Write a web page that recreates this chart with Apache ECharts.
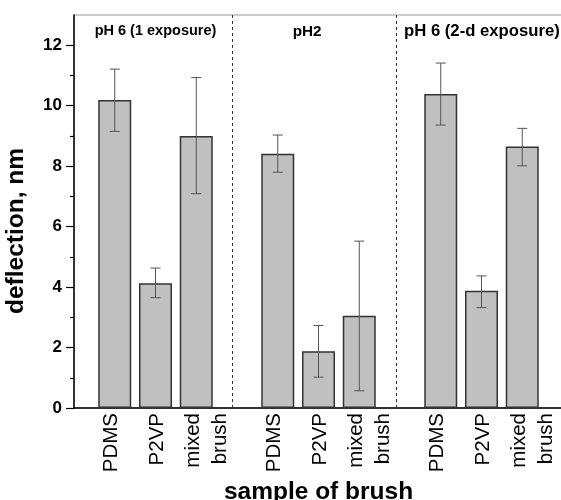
<!DOCTYPE html>
<html>
<head>
<meta charset="utf-8">
<style>
  html, body { margin: 0; padding: 0; background: #fff; }
  #chart { width: 561px; height: 500px; }
</style>
<script src="https://cdn.jsdelivr.net/npm/echarts@6/dist/echarts.min.js"></script>
</head>
<body>
<div id="chart"></div>
<script>
// bar positions on the x scale (gaps at 4 and 8 separate the groups)
const categories = ['PDMS', 'P2VP', 'mixed\nbrush', 'PDMS', 'P2VP', 'mixed\nbrush', 'PDMS', 'P2VP', 'mixed\nbrush'];
const barPos = [1, 2, 3, 5, 6, 7, 9, 10, 11];
const deflection = [10.19, 4.13, 9.0, 8.41, 1.88, 3.05, 10.39, 3.88, 8.65];
const errLow = [9.15, 3.65, 7.09, 7.80, 1.02, 0.57, 9.36, 3.32, 8.01];
const errHigh = [11.21, 4.63, 10.93, 9.03, 2.73, 5.52, 11.41, 4.37, 9.25];
// where the tick labels sit on the x scale
const labelPos = [0.92, 2.05, 3.25, 4.92, 6.05, 7.25, 8.92, 10.05, 11.25];
const dividers = [3.88, 7.9];
const groupTitles = ['pH 6 (1 exposure)', 'pH2', 'pH 6 (2-d exposure)'];
const groupTitleX = [2.0, 5.72, 10.01];
const groupTitleY = 12.46;
const yMajorTicks = [0, 2, 4, 6, 8, 10, 12];
const yMinorTicks = [1, 3, 5, 7, 9, 11];

const font = 'Liberation Sans, Arial, sans-serif';
const chart = echarts.init(document.getElementById('chart'));

chart.setOption({
  animation: false,
  grid: {
    left: 74,
    right: -2,
    top: 15,
    bottom: 92,
    outerBoundsMode: 'none',
    show: true,
    borderColor: '#999',
    borderWidth: 1
  },
  xAxis: {
    type: 'value',
    min: 0,
    max: 12,
    name: 'sample of brush',
    nameLocation: 'middle',
    nameGap: 65,
    nameTextStyle: { fontFamily: font, fontWeight: 'bold', fontSize: 24.5, color: '#000' },
    axisLine: { lineStyle: { color: '#000', width: 1.5 } },
    axisTick: { show: false },
    splitLine: { show: false },
    axisLabel: {
      customValues: labelPos,
      rotate: 90,
      margin: 5,
      fontFamily: font,
      fontSize: 20.5,
      lineHeight: 27,
      color: '#000',
      formatter: (val) => {
        const i = labelPos.indexOf(val);
        return i >= 0 ? categories[i] : '';
      }
    }
  },
  yAxis: [{
    type: 'value',
    min: 0,
    max: 13,
    axisLine: { show: true, lineStyle: { color: '#000', width: 1.5 } },
    axisTick: { show: true, length: 8, customValues: yMajorTicks, lineStyle: { color: '#000', width: 1.2 } },
    axisLabel: {
      customValues: yMajorTicks,
      margin: 12,
      fontFamily: font,
      fontWeight: 'bold',
      fontSize: 17,
      color: '#000'
    },
    splitLine: { show: false }
  }, {
    type: 'value',
    min: 0,
    max: 13,
    position: 'left',
    axisLine: { show: false },
    axisTick: { show: true, length: 4, customValues: yMinorTicks, lineStyle: { color: '#000', width: 1.2 } },
    axisLabel: { show: false },
    splitLine: { show: false }
  }],
  graphic: [{
    type: 'text',
    x: 16,
    y: 231,
    rotation: Math.PI / 2,
    style: {
      text: 'deflection, nm',
      font: 'bold 24.5px ' + font,
      fill: '#000',
      align: 'center',
      verticalAlign: 'middle'
    }
  }],
  series: [{
    type: 'bar',
    barWidth: 33,
    data: barPos.map((x, i) => [x, deflection[i]]),
    itemStyle: { color: '#c0c0c0', borderColor: '#333', borderWidth: 1.5 },
    markLine: {
      silent: true,
      symbol: 'none',
      label: { show: false },
      lineStyle: { color: '#333', type: [3, 3], width: 1 },
      data: dividers.map((x) => ({ xAxis: x }))
    },
    z: 2
  }, {
    type: 'custom',
    data: barPos.map((x, i) => [x, errLow[i], errHigh[i]]),
    renderItem: (params, api) => {
      const lo = api.coord([api.value(0), api.value(1)]);
      const hi = api.coord([api.value(0), api.value(2)]);
      const cap = 5;
      const style = { stroke: '#555', lineWidth: 1 };
      return {
        type: 'group',
        children: [
          { type: 'line', shape: { x1: lo[0], y1: lo[1], x2: hi[0], y2: hi[1] }, style },
          { type: 'line', shape: { x1: hi[0] - cap, y1: hi[1], x2: hi[0] + cap, y2: hi[1] }, style },
          { type: 'line', shape: { x1: lo[0] - cap, y1: lo[1], x2: lo[0] + cap, y2: lo[1] }, style }
        ]
      };
    },
    z: 3
  }, {
    type: 'custom',
    data: groupTitleX.map((x, i) => [x, groupTitleY, i]),
    renderItem: (params, api) => {
      const p = api.coord([api.value(0), api.value(1)]);
      const i = api.value(2);
      const sizes = [14.5, 15.3, 16.7];
      return {
        type: 'text',
        x: p[0],
        y: p[1],
        style: {
          text: groupTitles[i],
          font: 'bold ' + sizes[i] + 'px ' + font,
          fill: '#000',
          align: 'center',
          verticalAlign: 'middle'
        }
      };
    },
    z: 4
  }]
});
</script>
</body>
</html>
